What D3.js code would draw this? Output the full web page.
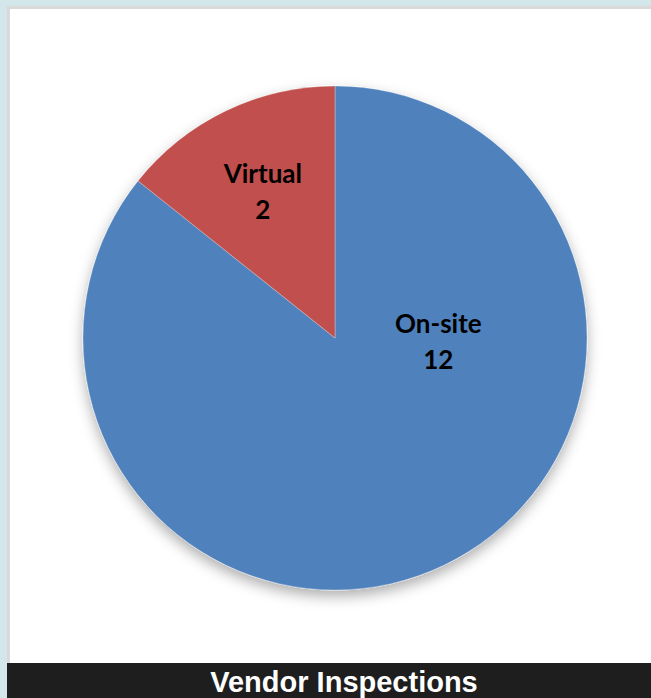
<!DOCTYPE html>
<html>
<head>
<meta charset="utf-8">
<script src="https://cdn.jsdelivr.net/npm/d3@7"></script>
<style>
  html, body { margin: 0; padding: 0; background: #d3e7eb; overflow: hidden; }
  svg { display: block; }
</style>
</head>
<body>
<svg id="chart" width="651" height="698"></svg>
<script>
// chart data
const categories = ["On-site", "Virtual"]
const values = [12, 2]
const colors = ["#4f81bd", "#c0504d"]
const title = "Vendor Inspections"

const svg = d3.select("#chart")
const W = 651, H = 698

// frame: grey border, white panel, black caption bar
svg.append("rect").attr("x", 7).attr("y", 6).attr("width", W - 7).attr("height", H - 6).attr("fill", "#d9d9d9")
svg.append("rect").attr("x", 10).attr("y", 9).attr("width", W - 10).attr("height", 663 - 9).attr("fill", "#fff")
svg.append("rect").attr("x", 7).attr("y", 663).attr("width", W - 7).attr("height", H - 663).attr("fill", "#1e1e1e")
svg.append("text")
  .attr("x", 344).attr("y", 692)
  .attr("text-anchor", "middle")
  .attr("fill", "#fff")
  .attr("font-family", "Liberation Sans, Arial, sans-serif")
  .attr("font-weight", "bold")
  .attr("font-size", 29)
  .text(title)

// soft shadow under the pie
const defs = svg.append("defs")
const f = defs.append("filter").attr("id", "shadow").attr("x", "-20%").attr("y", "-20%").attr("width", "140%").attr("height", "140%")
f.append("feDropShadow").attr("dx", 0).attr("dy", 6).attr("stdDeviation", 7)
  .attr("flood-color", "#000").attr("flood-opacity", 0.32)

const cx = 335, cy = 338, r = 252

const data = categories.map((c, i) => ({ name: c, value: values[i], color: colors[i] }))
const pie = d3.pie().sort(null).value(d => d.value)
const arc = d3.arc().innerRadius(0).outerRadius(r)
const arcs = pie(data)

const g = svg.append("g").attr("transform", `translate(${cx},${cy})`)

g.append("g").attr("filter", "url(#shadow)")
  .selectAll("path")
  .data(arcs)
  .join("path")
  .attr("d", arc)
  .attr("fill", d => d.data.color)
  .attr("stroke", "#fff")
  .attr("stroke-opacity", 0.35)
  .attr("stroke-width", 0.8)

// label placement: small slices near their centroid, big slice off to the right side
function labelPos(d) {
  const big = d.endAngle - d.startAngle > Math.PI
  const a = big ? Math.PI / 2 : (d.startAngle + d.endAngle) / 2
  const k = big ? 0.41 : 0.66
  return [Math.sin(a) * r * k, -Math.cos(a) * r * k]
}

const labels = g.selectAll("text.lbl")
  .data(arcs)
  .join("text")
  .attr("class", "lbl")
  .attr("text-anchor", "middle")
  .attr("font-family", "Lato, sans-serif")
  .attr("font-weight", "bold")
  .attr("font-size", 26)
  .attr("fill", "#000")
  .attr("transform", d => `translate(${labelPos(d)})`)

labels.append("tspan").attr("x", 0).attr("y", -5).text(d => d.data.name)
labels.append("tspan").attr("x", 0).attr("y", 31).text(d => d.data.value)
</script>
</body>
</html>
